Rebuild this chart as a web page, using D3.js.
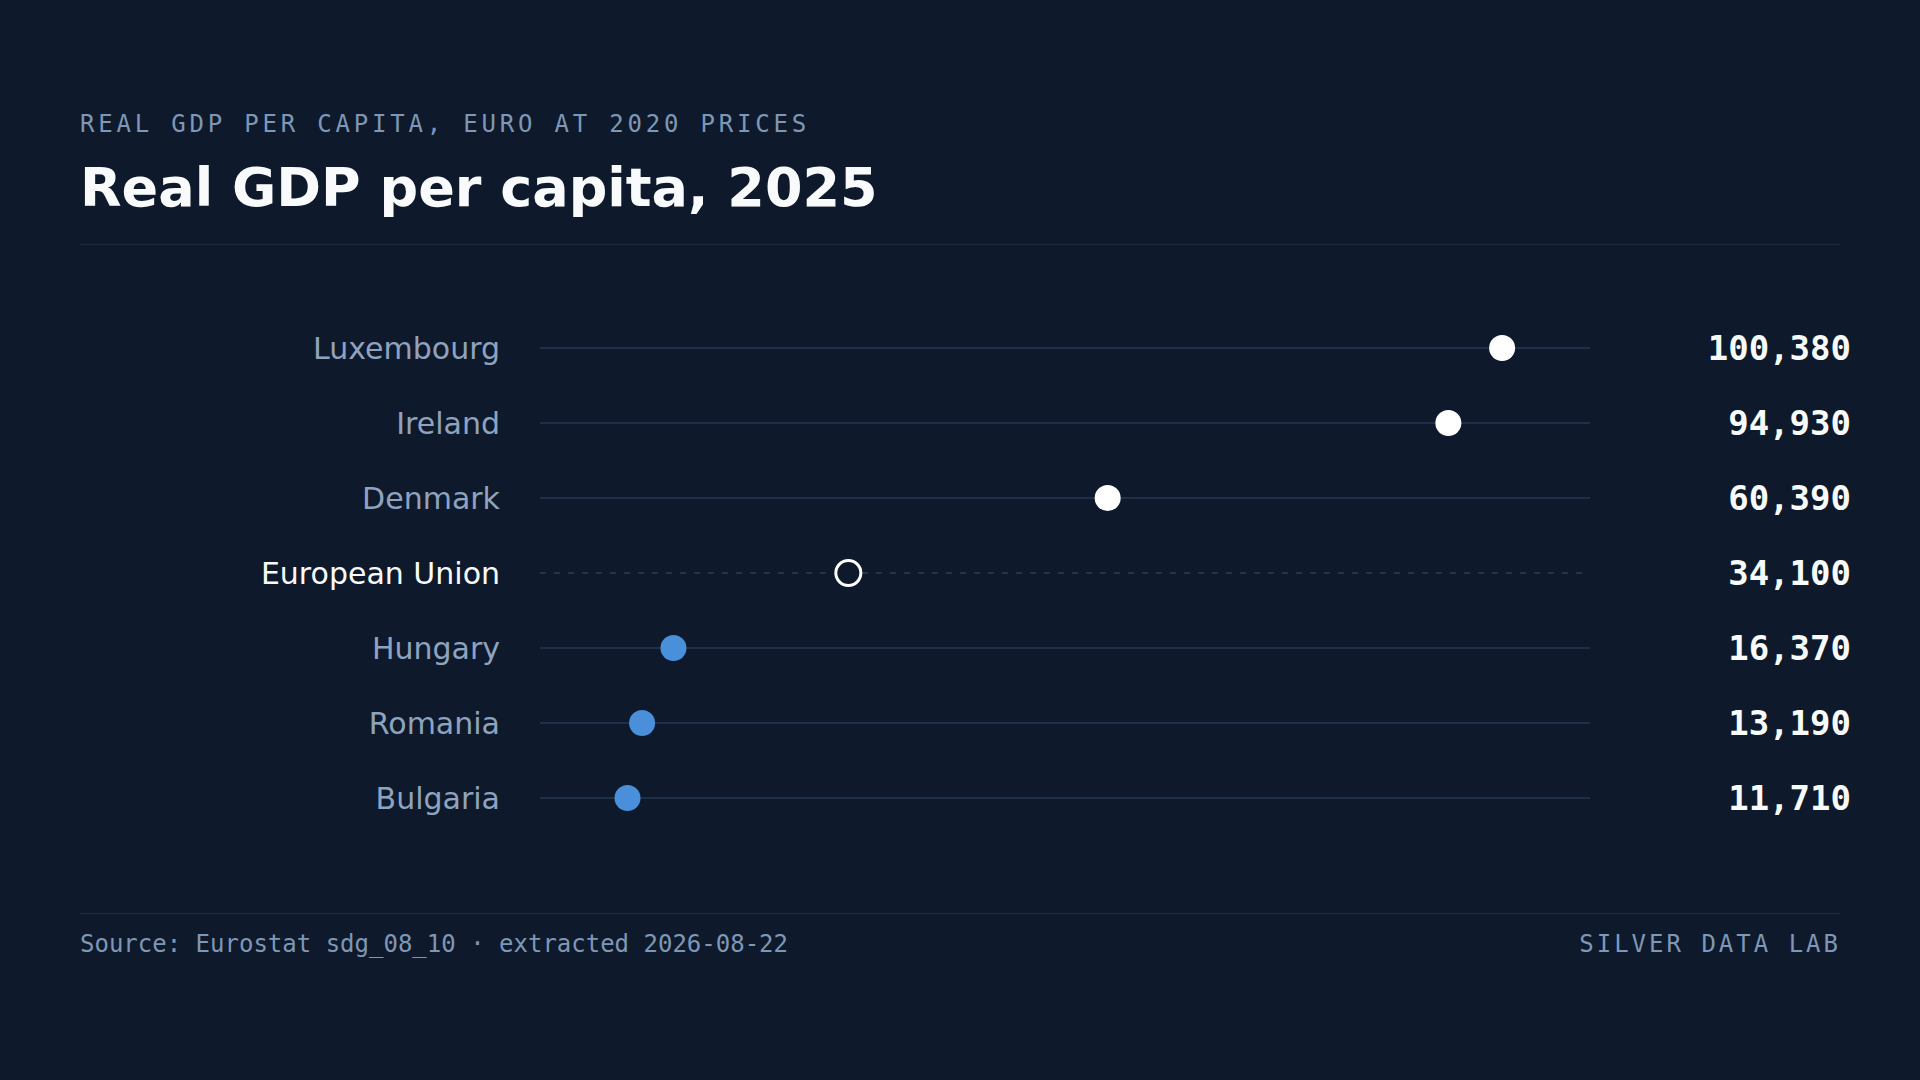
<!DOCTYPE html>
<html>
<head>
<meta charset="utf-8">
<script src="https://cdn.jsdelivr.net/npm/d3@7"></script>
<style>
  html, body { margin: 0; padding: 0; background: #0e1a2b; }
  svg { display: block; }
</style>
</head>
<body>
<svg id="chart" width="1920" height="1080"></svg>
<script>
// ---- data ----
const countries = ["Luxembourg", "Ireland", "Denmark", "European Union", "Hungary", "Romania", "Bulgaria"];
const values = [100380, 94930, 60390, 34100, 16370, 13190, 11710];
const benchmark = "European Union";
const subtitle = "REAL GDP PER CAPITA, EURO AT 2020 PRICES";
const title = "Real GDP per capita, 2025";
const source = "Source: Eurostat sdg_08_10 · extracted 2026-08-22";
const brand = "SILVER DATA LAB";

const bg = "#0e1a2b";
const svg = d3.select("#chart");
svg.append("rect").attr("width", 1920).attr("height", 1080).attr("fill", bg);

const mono = "'DejaVu Sans Mono', monospace";
const sans = "'DejaVu Sans', sans-serif";

// header
svg.append("text").attr("x", 80).attr("y", 132)
  .attr("font-family", mono).attr("font-size", 24).attr("letter-spacing", 3.8)
  .attr("fill", "#7f97b6").text(subtitle);
svg.append("text").attr("x", 80).attr("y", 206)
  .attr("font-family", sans).attr("font-weight", "bold").attr("font-size", 54)
  .attr("fill", "#f8fafc").text(title);
svg.append("line").attr("x1", 80).attr("x2", 1840).attr("y1", 244.5).attr("y2", 244.5)
  .attr("stroke", "#1a2a3e").attr("stroke-width", 1.5);

// scales
const x = d3.scaleLinear().domain([0, 110000]).range([512, 1597]);
const y = d3.scalePoint().domain(countries).range([348, 798]);
const trackX0 = 540, trackX1 = 1590;
const data = countries.map((c, i) => ({ c, v: values[i] }));
const euVal = values[countries.indexOf(benchmark)];
const fmt = d3.format(",");

const rows = svg.append("g").selectAll("g").data(data).join("g")
  .attr("transform", d => `translate(0,${y(d.c)})`);

rows.append("line")
  .attr("x1", trackX0).attr("x2", trackX1)
  .attr("stroke", d => d.c === benchmark ? "#2a3d57" : "#243752")
  .attr("stroke-width", 1.5)
  .attr("stroke-dasharray", d => d.c === benchmark ? "6,8" : null);

rows.append("text")
  .attr("x", 500).attr("dy", "0.36em").attr("text-anchor", "end")
  .attr("font-family", sans).attr("font-size", 30)
  .attr("fill", d => d.c === benchmark ? "#f8fafc" : "#8fa3bf")
  .text(d => d.c);

rows.append("circle")
  .attr("cx", d => x(d.v)).attr("cy", 0)
  .attr("r", d => d.c === benchmark ? 12.5 : 13)
  .attr("fill", d => d.c === benchmark ? bg : (d.v > euVal ? "#ffffff" : "#4a8fda"))
  .attr("stroke", d => d.c === benchmark ? "#ffffff" : "none")
  .attr("stroke-width", 3);

rows.append("text")
  .attr("x", 1851).attr("dy", "0.36em").attr("text-anchor", "end")
  .attr("font-family", mono).attr("font-weight", "bold").attr("font-size", 34)
  .attr("fill", "#f8fafc")
  .text(d => fmt(d.v));

// footer
svg.append("line").attr("x1", 80).attr("x2", 1840).attr("y1", 913.5).attr("y2", 913.5)
  .attr("stroke", "#1a2a3e").attr("stroke-width", 1.5);
svg.append("text").attr("x", 80).attr("y", 952)
  .attr("font-family", mono).attr("font-size", 24)
  .attr("fill", "#7f97b6").text(source);
svg.append("text").attr("x", 1841).attr("y", 952).attr("text-anchor", "end")
  .attr("font-family", mono).attr("font-size", 24).attr("letter-spacing", 3)
  .attr("fill", "#7f97b6").text(brand);
</script>
</body>
</html>
